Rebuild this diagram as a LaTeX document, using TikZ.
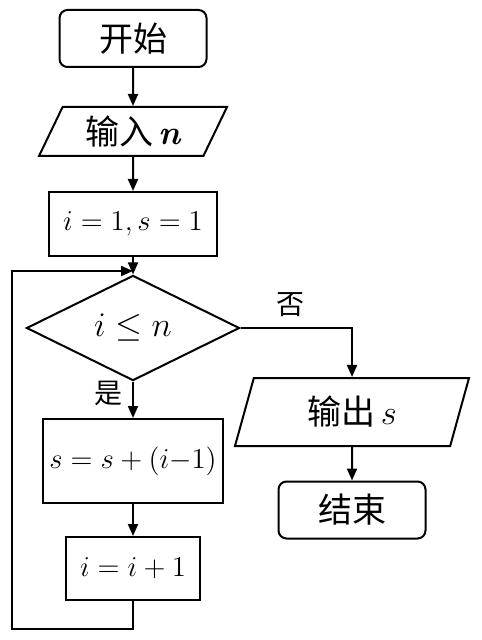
\documentclass[tikz,border=0pt]{standalone}
\usepackage{fontspec}
\newfontfamily\cjk{Noto Sans CJK SC}
\usetikzlibrary{shapes.geometric,arrows.meta}
\newcommand{\bt}{\fontsize{17}{20}\selectfont}
\newcommand{\mt}{\fontsize{14}{16}\selectfont}

\begin{document}
\begin{tikzpicture}[x=0.5pt,y=-0.5pt,
  line width=1pt,
  arr/.style={-{Triangle[length=6pt,width=5pt]}},
  term/.style={draw,rounded corners=4pt,inner sep=0pt,font=\bt\cjk,
    minimum width=73.5pt,minimum height=28.5pt},
  proc/.style={draw,inner sep=0pt,font=\mt},
  io/.style={draw,trapezium,trapezium stretches body,inner sep=0pt,font=\bt},
  lbl/.style={font=\fontsize{14}{16}\selectfont\cjk}]
  \useasboundingbox (0,0) rectangle (481,640);
  \node[term] (start) at (133,38.5) {开始};
  \node[io,trapezium left angle=53,trapezium right angle=127,
    minimum width=94pt,minimum height=24.5pt] (in) at (133,131.5)
    {{\cjk 输入}\,{\bfseries\itshape n}};
  \node[proc,minimum width=84pt,minimum height=32pt] (init) at (133,224)
    {$i=1,s=1$};
  \node[draw,diamond,inner sep=0pt,font=\bt,
    minimum width=106.5pt,minimum height=35pt] (cond) at (133,328)
    {$i\leq n$};
  \node[proc,minimum width=90pt,minimum height=42pt] (body) at (133,461)
    {$s=s+(i{-}1)$};
  \node[proc,minimum width=67pt,minimum height=31.5pt] (inc) at (133,568.5)
    {$i=i+1$};
  \node[io,trapezium left angle=59,trapezium right angle=121,
    minimum width=117pt,minimum height=34pt] (out) at (352,412)
    {{\cjk 输出}\,$s$};
  \node[term] (stop) at (352,510) {结束};
  \node[lbl] (no) at (290,305) {否};
  \node[lbl] (yes) at (108,393) {是};
  \coordinate (join) at (133,271);
  \coordinate (bl) at (12,629);
  \coordinate (tl) at (12,271);

  \draw[arr] (start) -- (in);
  \draw[arr] (in) -- (init);
  \draw[arr] (init) -- (cond);
  \draw[arr] (cond) -- (body);
  \draw[arr] (body) -- (inc);
  \draw[arr] (cond.east) -| (out.north);
  \draw[arr] (out) -- (stop);
  \draw[arr] (inc.south) |- (bl) -- (tl) -- (join);
\end{tikzpicture}
\end{document}
